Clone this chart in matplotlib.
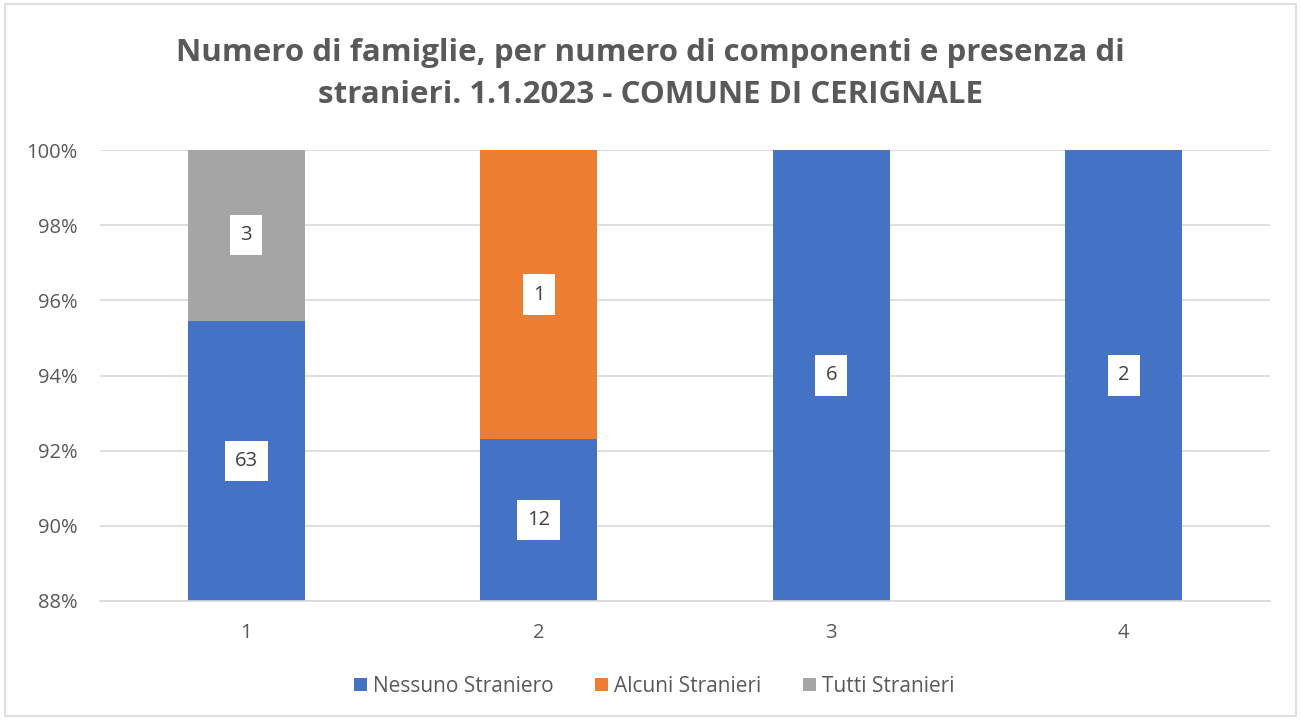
import matplotlib
matplotlib.use('Agg')
import matplotlib.pyplot as plt
from matplotlib.patches import Rectangle
from matplotlib.ticker import FuncFormatter
import numpy as np

plt.rcParams['font.family'] = ['Open Sans', 'DejaVu Sans']

categories = ['1', '2', '3', '4']
series_names = ['Nessuno Straniero', 'Alcuni Stranieri', 'Tutti Stranieri']
nessuno = [63, 12, 6, 2]
alcuni = [0, 1, 0, 0]
tutti = [3, 0, 0, 0]
colors = ['#4472C4', '#ED7D31', '#A5A5A5']

title = 'Numero di famiglie, per numero di componenti e presenza di\nstranieri. 1.1.2023 - COMUNE DI CERIGNALE'
y_min, y_max = 88, 100

counts = np.array([nessuno, alcuni, tutti], dtype=float)
totals = counts.sum(axis=0)
shares = counts / totals * 100

fig = plt.figure(figsize=(13.01, 7.2), dpi=100)
fig.patch.set_facecolor('white')
fig.patches.append(Rectangle((0.004, 0.006), 0.992, 0.988, transform=fig.transFigure,
                             fill=False, edgecolor='#D9D9D9', linewidth=1.2))

ax = fig.add_axes([100 / 1301, 119 / 720, 1170 / 1301, 451 / 720])
x = np.arange(1, len(categories) + 1)
bottom = np.zeros(len(categories))
for i, name in enumerate(series_names):
    ax.bar(x, shares[i], 0.4, bottom=bottom, color=colors[i], label=name, zorder=2)
    for j in range(len(categories)):
        if counts[i, j] <= 0:
            continue
        # label sits in the middle of the visible part of the segment
        lo = max(bottom[j], y_min)
        hi = min(bottom[j] + shares[i, j], y_max)
        ax.text(x[j], (lo + hi) / 2, str(int(counts[i, j])), ha='center', va='center',
                fontsize=14.5, color='#404040', zorder=4,
                bbox=dict(boxstyle='square,pad=0.5', facecolor='white', edgecolor='none'))
    bottom += shares[i]

ax.set_xlim(0.5, 4.5)
ax.set_ylim(y_min, y_max)
ax.set_yticks(np.arange(88, 101, 2))
ax.yaxis.set_major_formatter(FuncFormatter(lambda v, p: f'{v:.0f}%'))
ax.set_xticks(x)
ax.set_xticklabels(categories)
ax.grid(axis='y', color='#D9D9D9', linewidth=1.2, zorder=0)
ax.set_axisbelow(True)
for side in ['top', 'right', 'left']:
    ax.spines[side].set_visible(False)
ax.spines['bottom'].set_color('#D9D9D9')
ax.spines['bottom'].set_linewidth(1.2)
ax.tick_params(axis='both', length=0, labelsize=14.5, colors='#595959')
ax.tick_params(axis='y', pad=16)
ax.tick_params(axis='x', pad=16)

fig.text(0.5, 1 - 74 / 720, title, ha='center', va='center', fontsize=22.5,
         fontweight='bold', color='#595959', linespacing=1.55)

fig.legend(loc='center', bbox_to_anchor=(0.503, 1 - 686 / 720), ncol=3, frameon=False,
           fontsize=15, labelcolor='#595959', handlelength=0.6, handleheight=0.6,
           handletextpad=0.3, columnspacing=2.0)

fig.savefig('out.png', dpi=100)
